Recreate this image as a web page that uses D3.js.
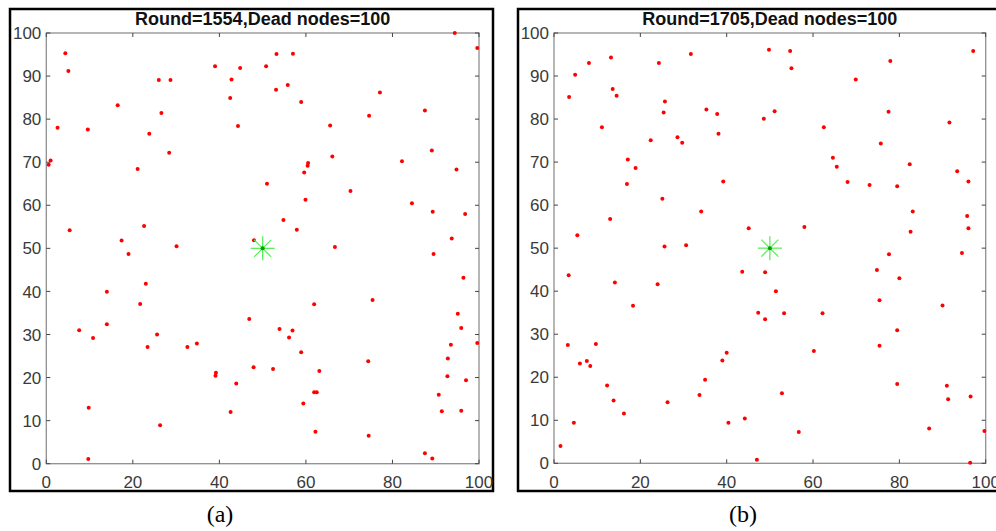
<!DOCTYPE html>
<html lang="en">
<head>
    <meta charset="UTF-8">
    <script src="https://cdn.jsdelivr.net/npm/d3@7.8.5/dist/d3.min.js"></script>
    <title>Dead nodes</title>
    <style>
        body { margin: 0; background: #fff; }
        .tick-label { font-family: "Liberation Sans", Arial, sans-serif; font-size: 17px; fill: #3a3a3a; }
        .title { font-family: "Liberation Sans", Arial, sans-serif; font-size: 18px; font-weight: bold; fill: #111; }
        .caption { font-family: "Liberation Serif", "Times New Roman", serif; font-size: 24px; fill: #000; }
    </style>
</head>
<body>
<svg width="996" height="531"></svg>
<script>
// node positions (x, y in field units 0..100)
var nodesA_x = [4.4, 5.1, 2.6, 9.6, 0.55, 1.0, 5.4, 16.5, 26.0, 28.7, 26.6, 23.8, 28.4, 21.1, 22.6, 17.4, 19.0, 30.1, 39.0, 42.8,
    42.5, 44.8, 44.3, 48.0, 50.8, 53.2, 57.0, 53.1, 55.8, 58.9, 65.6, 77.1, 74.6, 87.5, 94.4, 99.6, 89.1, 82.2, 94.8, 66.1,
    60.5, 60.4, 59.6, 51.0, 70.3, 59.9, 84.5, 89.3, 96.8, 54.8, 57.9, 93.7, 66.7, 89.5, 23.0, 14.0, 21.7, 7.6, 14.0, 10.8,
    25.6, 23.4, 32.6, 34.8, 39.1, 39.2, 43.9, 42.6, 46.9, 47.9, 9.8, 26.3, 9.7, 96.4, 61.9, 75.4, 95.1, 95.9, 53.9, 56.9,
    56.1, 93.5, 99.6, 58.9, 74.4, 92.8, 52.4, 63.1, 92.7, 97.0, 61.9, 62.5, 90.7, 59.4, 91.4, 95.9, 62.2, 74.5, 87.5, 89.2];
var nodesA_y = [95.3, 91.2, 78.0, 77.6, 69.4, 70.4, 54.2, 83.2, 89.1, 89.1, 81.4, 76.6, 72.2, 68.4, 55.2, 51.8, 48.7, 50.5, 92.3, 89.2,
    84.9, 91.9, 78.4, 51.9, 92.3, 95.1, 95.2, 86.8, 87.9, 84.0, 78.5, 86.2, 80.8, 82.0, 100, 96.5, 72.7, 70.2, 68.3, 71.3,
    69.8, 69.2, 67.6, 65.0, 63.3, 61.3, 60.5, 58.5, 58.0, 56.6, 54.3, 52.3, 50.3, 48.7, 41.8, 39.9, 37.1, 31.0, 32.4, 29.2,
    30.0, 27.1, 27.1, 27.9, 20.4, 21.1, 18.6, 12.0, 33.6, 22.4, 13.0, 8.9, 1.1, 43.2, 37.0, 38.0, 34.8, 31.5, 31.3, 30.9,
    29.3, 27.6, 28.0, 25.9, 23.8, 24.4, 22.0, 21.5, 20.3, 19.4, 16.6, 16.6, 16.0, 14.0, 12.2, 12.3, 7.4, 6.5, 2.4, 1.2];

var nodesB_x = [3.5, 4.9, 8.1, 13.2, 13.6, 14.5, 11.1, 5.4, 13.0, 17.1, 18.9, 16.9, 24.3, 31.7, 25.7, 25.4, 22.4, 28.6, 29.7, 35.3,
    37.8, 38.1, 39.2, 25.1, 34.1, 45.1, 25.6, 30.6, 49.8, 54.7, 55.0, 48.6, 51.1, 69.9, 77.9, 77.5, 97.1, 91.6, 62.5, 75.7,
    64.6, 65.5, 82.4, 68.0, 73.1, 79.5, 93.4, 96.0, 83.1, 95.7, 96.0, 82.6, 58.0, 77.6, 94.5, 3.4, 14.1, 24.0, 18.3, 43.6,
    3.2, 9.7, 6.0, 7.6, 8.4, 12.3, 13.8, 16.2, 4.6, 1.5, 26.3, 33.7, 35.0, 39.0, 40.0, 40.4, 44.2, 48.9, 51.4, 47.3,
    53.3, 48.9, 62.2, 60.2, 52.8, 56.7, 47.0, 74.8, 80.0, 75.4, 90.0, 79.5, 75.4, 79.5, 91.0, 91.3, 96.5, 86.9, 99.7, 96.4];
var nodesB_y = [85.1, 90.3, 93.0, 94.3, 87.0, 85.4, 78.1, 53.0, 56.8, 70.6, 68.6, 64.9, 93.0, 95.1, 84.1, 81.5, 75.1, 75.8, 74.5, 82.2,
    81.2, 76.6, 65.5, 61.5, 58.5, 54.6, 50.4, 50.7, 96.1, 95.8, 91.8, 80.1, 81.8, 89.2, 93.5, 81.7, 95.8, 79.2, 78.1, 74.3,
    71.0, 68.9, 69.5, 65.4, 64.7, 64.4, 67.9, 65.5, 58.5, 57.5, 54.6, 53.8, 54.9, 48.6, 48.9, 43.7, 42.0, 41.6, 36.6, 44.5,
    27.5, 27.7, 23.2, 23.8, 22.6, 18.1, 14.6, 11.6, 9.4, 4.0, 14.2, 15.9, 19.4, 23.9, 25.7, 9.4, 10.4, 44.4, 40.0, 35.0,
    34.9, 33.5, 34.9, 26.1, 16.3, 7.3, 0.8, 44.9, 43.0, 37.9, 36.7, 30.9, 27.3, 18.4, 18.0, 14.9, 15.5, 8.1, 7.5, 0.1];

var sink = [50, 50];
var xTicks = [0, 20, 40, 60, 80, 100];
var yTicks = [0, 10, 20, 30, 40, 50, 60, 70, 80, 90, 100];
var titles = ["Round=1554,Dead nodes=100", "Round=1705,Dead nodes=100"];
var captions = ["(a)", "(b)"];

var svg = d3.select("svg");

// one panel: frame, axes box, ticks, nodes, sink star
function drawPanel(p, xs, ys, title, caption) {
    var x = d3.scaleLinear().domain([0, 100]).range([p.left, p.right]);
    var y = d3.scaleLinear().domain([0, 100]).range([p.bottom, p.top]);
    var g = svg.append("g");

    // outer black figure border
    g.append("rect")
        .attr("x", p.frame[0]).attr("y", p.frame[1])
        .attr("width", p.frame[2] - p.frame[0]).attr("height", p.frame[3] - p.frame[1])
        .attr("fill", "none").attr("stroke", "#000").attr("stroke-width", 2.5);

    // axes box
    g.append("rect")
        .attr("x", p.left).attr("y", p.top)
        .attr("width", p.right - p.left).attr("height", p.bottom - p.top)
        .attr("fill", "none").attr("stroke", "#8f8f8f").attr("stroke-width", 1.3);

    // inward ticks on all four sides (box on)
    var tl = 4;
    xTicks.forEach(function(t) {
        g.append("line").attr("x1", x(t)).attr("x2", x(t)).attr("y1", p.bottom).attr("y2", p.bottom - tl)
            .attr("stroke", "#444");
        g.append("line").attr("x1", x(t)).attr("x2", x(t)).attr("y1", p.top).attr("y2", p.top + tl)
            .attr("stroke", "#444");
        g.append("text").attr("class", "tick-label")
            .attr("x", x(t)).attr("y", p.bottom + 24.5)
            .attr("text-anchor", "middle").text(t);
    });
    yTicks.forEach(function(t) {
        g.append("line").attr("x1", p.left).attr("x2", p.left + tl).attr("y1", y(t)).attr("y2", y(t))
            .attr("stroke", "#444");
        g.append("line").attr("x1", p.right).attr("x2", p.right - tl).attr("y1", y(t)).attr("y2", y(t))
            .attr("stroke", "#444");
        g.append("text").attr("class", "tick-label")
            .attr("x", p.left - 5).attr("y", y(t))
            .attr("dy", "0.36em")
            .attr("text-anchor", "end").text(t);
    });

    // title
    g.append("text").attr("class", "title")
        .attr("x", (p.left + p.right) / 2).attr("y", 25)
        .attr("text-anchor", "middle").text(title);

    // dead nodes
    g.selectAll(".node")
        .data(d3.range(xs.length))
        .enter().append("circle")
        .attr("class", "node")
        .attr("cx", function(i) { return x(xs[i]); })
        .attr("cy", function(i) { return y(ys[i]); })
        .attr("r", 2)
        .attr("fill", "#ff0000");

    // sink marker '*'
    var cx = x(sink[0]), cy = y(sink[1]), r = 12;
    [0, 45, 90, 135].forEach(function(a) {
        var rad = a * Math.PI / 180;
        g.append("line")
            .attr("x1", cx - r * Math.cos(rad)).attr("y1", cy - r * Math.sin(rad))
            .attr("x2", cx + r * Math.cos(rad)).attr("y2", cy + r * Math.sin(rad))
            .attr("stroke", "#5cf05c").attr("stroke-width", 1.3);
    });
    g.append("circle").attr("cx", cx).attr("cy", cy).attr("r", 2).attr("fill", "#0a9a0a");

    // caption under the figure
    g.append("text").attr("class", "caption")
        .attr("x", p.capX).attr("y", 522)
        .attr("text-anchor", "middle").text(caption);
}

drawPanel({left: 46.3, right: 479, top: 33, bottom: 463.7, frame: [10, 9, 493, 491], capX: 220},
    nodesA_x, nodesA_y, titles[0], captions[0]);
drawPanel({left: 554, right: 985.7, top: 33, bottom: 463.3, frame: [518, 9, 1010, 491], capX: 743},
    nodesB_x, nodesB_y, titles[1], captions[1]);
</script>
</body>
</html>
